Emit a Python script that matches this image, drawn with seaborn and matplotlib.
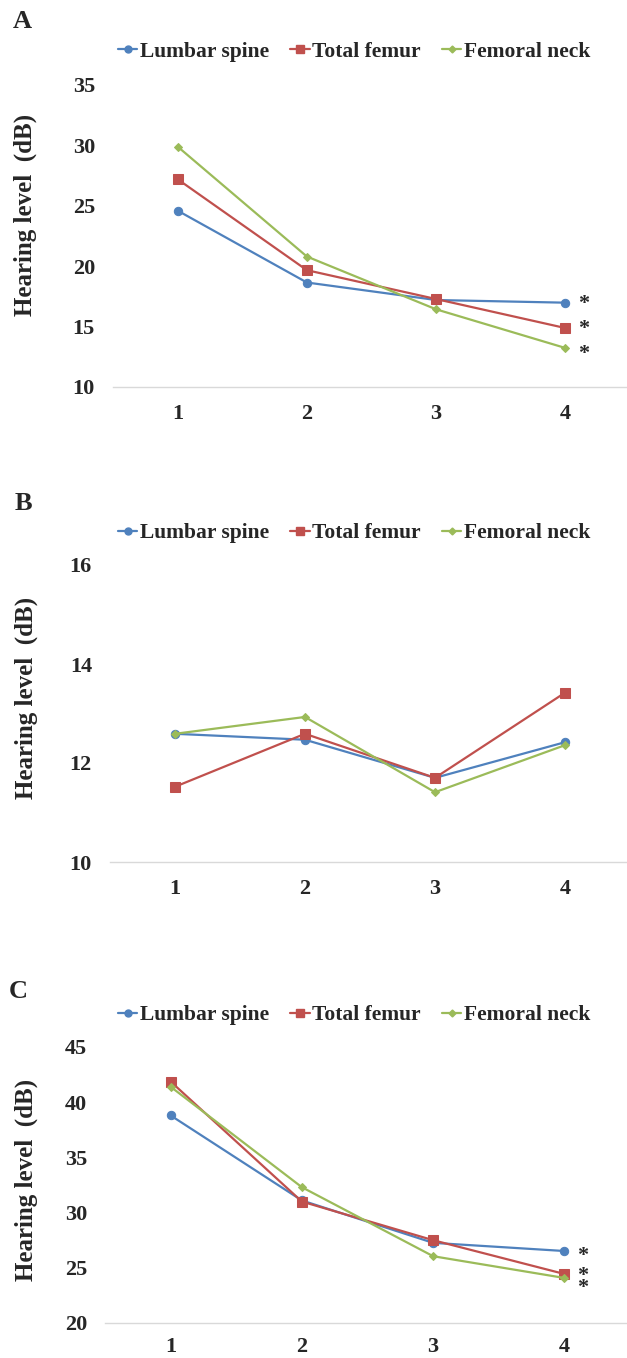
import pandas as pd
import seaborn as sns
import matplotlib.pyplot as plt
from matplotlib.lines import Line2D

sns.set_style("white")
plt.rcParams["font.family"] = ["Liberation Serif", "DejaVu Serif"]
plt.rcParams["font.weight"] = "bold"

# Data
groups = [1, 2, 3, 4]
series_names = ["Lumbar spine", "Total femur", "Femoral neck"]

a_lumbar = [24.6, 18.65, 17.2, 16.98]
a_femur = [27.2, 19.67, 17.28, 14.88]
a_neck = [29.9, 20.8, 16.43, 13.23]

b_lumbar = [12.59, 12.47, 11.70, 12.42]
b_femur = [11.52, 12.59, 11.70, 13.42]
b_neck = [12.59, 12.93, 11.41, 12.36]

c_lumbar = [38.8, 31.1, 27.26, 26.52]
c_femur = [41.87, 31.0, 27.5, 24.44]
c_neck = [41.4, 32.3, 26.05, 24.08]

panel_labels = ["A", "B", "C"]
a_ticks = [10, 15, 20, 25, 30, 35]
b_ticks = [10, 12, 14, 16]
c_ticks = [20, 25, 30, 35, 40, 45]
a_stars = ["*", "*", "*"]
c_stars = ["*", "*", "*"]

colors = ["#4F81BD", "#C0504D", "#9BBB59"]
markers = ["o", "s", "D"]
msizes = [6, 6.5, 4.5]


def make_df(values):
    rows = []
    for name, vals in zip(series_names, values):
        for g, v in zip(groups, vals):
            rows.append({"group": g, "series": name, "value": v})
    return pd.DataFrame(rows)


panels = [
    (make_df([a_lumbar, a_femur, a_neck]), a_ticks, a_stars),
    (make_df([b_lumbar, b_femur, b_neck]), b_ticks, None),
    (make_df([c_lumbar, c_femur, c_neck]), c_ticks, c_stars),
]

# layout in pixels (fig 627 x 1358)
W, H = 627, 1358
axes_px = [(113, 85, 387), (110, 565, 862), (105, 1047, 1323)]  # left, top, bottom
legend_y = [52, 533, 1015]
letter_pos = [(22, 22), (23, 503), (18, 992)]
ylabel_pos = [(25, 215), (26, 698), (26, 1180)]
star_shift = [[-1.5, -1.5, 2], None, [1, -1, 4.5]]
xtick_pad = [12, 12, 10]

fig = plt.figure(figsize=(W / 100, H / 100), dpi=100)

for i, (df, ticks, stars) in enumerate(panels):
    left, top, bottom = axes_px[i]
    ax = fig.add_axes([left / W, 1 - bottom / H, (630 - left) / W, (bottom - top) / H])
    for j, name in enumerate(series_names):
        sns.lineplot(
            data=df[df["series"] == name],
            x="group",
            y="value",
            color=colors[j],
            marker=markers[j],
            markersize=msizes[j],
            markeredgecolor=colors[j],
            linewidth=1.6,
            ax=ax,
            label=name,
        )
    ax.set_xlim(0.5, 4.5)
    ax.set_ylim(ticks[0], ticks[-1])
    ax.set_xticks(groups)
    ax.set_yticks(ticks)
    ax.set_xticklabels([str(g) for g in groups], fontsize=16, fontweight="bold")
    ax.set_yticklabels([str(t) for t in ticks], fontsize=16, fontweight="bold")
    ax.tick_params(axis="y", length=0, pad=13)
    ax.tick_params(axis="x", length=0, pad=xtick_pad[i])
    for s in ["top", "right", "left"]:
        ax.spines[s].set_visible(False)
    ax.spines["bottom"].set_color("#d9d9d9")
    ax.spines["bottom"].set_linewidth(1)
    ax.set_xlabel("")
    ax.set_ylabel("")
    ax.get_legend().remove()

    if stars is not None:
        for j, name in enumerate(series_names):
            v = df[(df["series"] == name) & (df["group"] == 4)]["value"].iloc[0]
            ax.annotate(stars[j], xy=(4, v), xytext=(13, -6 - star_shift[i][j]),
                        textcoords="offset points", fontsize=16, fontweight="bold",
                        ha="center", va="baseline", annotation_clip=False)

    handles = [Line2D([], [], color=colors[j], marker=markers[j], markersize=msizes[j] - 1,
                      linewidth=1.6) for j in range(3)]
    fig.legend(handles, series_names, loc="center", ncol=3, frameon=False,
               bbox_to_anchor=(354 / W, 1 - legend_y[i] / H),
               prop={"family": "Liberation Serif", "weight": "bold", "size": 15.5},
               handlelength=0.9, handletextpad=0.1, columnspacing=1.0)

    lx, ly = letter_pos[i]
    fig.text(lx / W, 1 - ly / H, panel_labels[i], fontsize=19, fontweight="bold",
             ha="center", va="center")
    yx, yy = ylabel_pos[i]
    fig.text(yx / W, 1 - yy / H, "Hearing level  (dB)", fontsize=18, fontweight="bold",
             rotation=90, ha="center", va="center")

fig.savefig("out.png", dpi=100)
